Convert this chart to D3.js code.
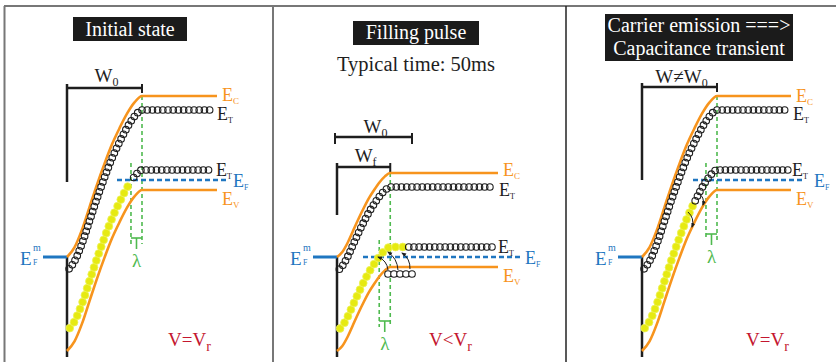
<!DOCTYPE html>
<html><head><meta charset="utf-8">
<script src="https://cdn.jsdelivr.net/npm/d3@7"></script>
<style>
body{margin:0;background:#fff}
svg{display:block}
text{font-family:"Liberation Serif","Times New Roman",serif}
</style>
</head><body>
<svg id="c" width="836" height="362"></svg>
<script>
// ---------------- data ----------------
const panelTitles = [["Initial state"], ["Filling pulse"], ["Carrier emission ===>", "Capacitance transient"]];
const panelNotes = ["", "Typical time: 50ms", ""];
const bulkFermi = [0.77, 0.0, 0.77];            // bulk E_F above metal E_F^m (eV)
const depletionWidth = [1.0, 0.71, 1.0];         // W in units of W0
const levelKeys = ["C", "T1", "T2", "V"];
const levelOffsets = [0.84, 0.70, 0.10, -0.10];  // level relative to bulk E_F (eV)
const interfaceEc = 0.0;                         // Ec at metal interface (eV)
const bendProfile = [[0,0],[0.1,0.06],[0.2,0.17],[0.3,0.31],[0.4,0.45],[0.5,0.58],[0.6,0.70],[0.7,0.80],[0.8,0.89],[0.9,0.96],[1,1]];
const occupiedDepth = [0.85, 0.89, 0.68];        // traps filled up to this depth
const lambdaWidth = 0.147;                       // λ in units of W0
const holeDepths = [[], [0.68, 0.76, 0.84, 0.92, 1.0], []];
const holeEnergy = -0.17;
const captureArrows = [[], [[0.68,-0.13,0.547,0.0],[0.813,-0.13,0.68,0.05],[0.973,-0.12,0.867,0.04]], []];
const emissionArrows = [[], [], [[0.747,0.64,0.813,0.52],[0.613,0.45,0.667,0.30]]];
const biasLabels = [["V=V","r"], ["V<V","r"], ["V=V","r"]];
const bracketLabels = [[["W","0"]], [["W","0"],["W","f"]], [["W≠W","0"]]];
const bracketWidths = [[1.0], [1.0, 0.71], [1.0]];

// ---------------- layout ----------------
const L = {
  x0: [67, 337, 642],
  bandEnd: [217, 498, 791],
  chainEnd: [212, 494, 788],
  efStart: [117, 363, 693],
  efEnd: [227, 520, 802],
  efLabelX: [233, 525, 814],
  titleBox: [[73,17,114,24],[353,21,126,24],[605,14,188,47]],
  titleBase: [[36],[39],[32,55]],
  bracketY: [[88],[137,167],[87]],
  bracketLabelBase: [[82],[133,162],[83]],
  longTickBottom: [182, 215, 180],
  lambdaY: [238, 321, 234],
  biasX: [168, 429, 746],
  dyC: [5, 3, 6],
  dyT1: [10, 9, 10],
  dividers: [273, 566]
};
const W0px = 75;
const ORANGE = "#f7941d", BLUE = "#1f76c0", GREEN = "#4fba4f", RED = "#c4172f", INK = "#1e1e1e", YEL = "#e6ea12";

const svg = d3.select("#c");
const y = d3.scaleLinear().domain([0, 1]).range([257, 157]);

// frame
svg.append("line").attr("x1",4).attr("x2",836).attr("y1",6).attr("y2",6).attr("stroke","#777").attr("stroke-width",2);
svg.append("line").attr("x1",4.5).attr("x2",4.5).attr("y1",6).attr("y2",362).attr("stroke","#777").attr("stroke-width",2);
svg.append("line").attr("x1",L.dividers[0]).attr("x2",L.dividers[0]).attr("y1",6).attr("y2",362).attr("stroke","#777").attr("stroke-width",2);
svg.append("line").attr("x1",L.dividers[1]).attr("x2",L.dividers[1]).attr("y1",6).attr("y2",362).attr("stroke","#222").attr("stroke-width",1.5);

const defs = svg.append("defs");
defs.append("marker").attr("id","ah").attr("viewBox","0 0 10 10").attr("refX",8).attr("refY",5)
  .attr("markerWidth",5).attr("markerHeight",5).attr("orient","auto")
  .append("path").attr("d","M0,1 L10,5 L0,9 z").attr("fill",INK);

function subText(g, x, yb, main, sub, size, subSize, color, anchor) {
  const t = g.append("text").attr("x",x).attr("y",yb).attr("font-size",size).attr("fill",color);
  if (anchor) t.attr("text-anchor",anchor);
  t.append("tspan").text(main);
  t.append("tspan").attr("font-size",subSize).attr("dy",subSize*0.35).text(sub);
  return t;
}

function placeAlong(pathNode, l0, l1, step) {
  const pts = [];
  for (let l = l0; l <= l1 + 0.01; l += step) pts.push(pathNode.getPointAtLength(l));
  return pts;
}
function lengthAtX(pathNode, xt) {
  let lo = 0, hi = pathNode.getTotalLength();
  for (let i = 0; i < 40; i++) {
    const m = (lo + hi) / 2;
    if (pathNode.getPointAtLength(m).x < xt) lo = m; else hi = m;
  }
  return lo;
}

for (let p = 0; p < 3; p++) {
  const g = svg.append("g");
  const x0 = L.x0[p];
  const x = d3.scaleLinear().domain([0, 1]).range([x0, x0 + W0px]);
  const W = depletionWidth[p];
  const EF = bulkFermi[p];
  const bulk = levelOffsets.map(o => EF + o);   // C, T1, T2, V
  const EcBulk = bulk[0];
  const bend = EcBulk - interfaceEc;
  const endD = x.invert(L.bandEnd[p]);
  const bandPts = (shift, dEnd) => bendProfile.map(([t, f]) => [t * W, interfaceEc + bend * f - shift]).concat([[dEnd, EcBulk - shift]]);
  const line = d3.line().x(d => x(d[0])).y(d => y(d[1])).curve(d3.curveMonotoneX);
  const shiftOf = k => bulk[0] - bulk[k];

  // title
  const tb = L.titleBox[p];
  g.append("rect").attr("x",tb[0]).attr("y",tb[1]).attr("width",tb[2]).attr("height",tb[3]).attr("fill","#1b1b1b");
  panelTitles[p].forEach((t, i) => {
    g.append("text").attr("x",tb[0]+tb[2]/2).attr("y",L.titleBase[p][i]).attr("text-anchor","middle")
      .attr("font-size",20).attr("fill","#fff").text(t);
  });
  if (panelNotes[p]) g.append("text").attr("x",tb[0]+tb[2]/2).attr("y",71).attr("text-anchor","middle")
      .attr("font-size",20.5).attr("fill",INK).text(panelNotes[p]);

  // width brackets
  bracketWidths[p].forEach((bw, i) => {
    const by = L.bracketY[p][i];
    const isLast = i === bracketWidths[p].length - 1;
    const xl = x(0) - (isLast ? 0 : 2), xr = x(bw);
    g.append("line").attr("x1",xl).attr("x2",xr).attr("y1",by).attr("y2",by).attr("stroke",INK).attr("stroke-width",2.5);
    g.append("line").attr("x1",xr).attr("x2",xr).attr("y1",by-4).attr("y2",by+ (isLast?5:7)).attr("stroke",INK).attr("stroke-width",2);
    g.append("line").attr("x1",xl).attr("x2",xl).attr("y1",by-4).attr("y2",isLast ? L.longTickBottom[p] : by+7).attr("stroke",INK).attr("stroke-width",isLast?2.5:2);
    const lab = bracketLabels[p][i];
    subText(g, (xl+xr)/2 + 2, L.bracketLabelBase[p][i], lab[0], lab[1], 19, 12, INK, "middle");
  });

  // green λ markers
  const xW = x(W), xLam = x(W - lambdaWidth);
  const ly = L.lambdaY[p];
  g.append("line").attr("x1",xW).attr("x2",xW).attr("y1",y(EcBulk)).attr("y2",ly+6)
    .attr("stroke",GREEN).attr("stroke-width",1.6).attr("stroke-dasharray","4,3");
  g.append("line").attr("x1",xLam).attr("x2",xLam).attr("y1",y(bulk[2])-7).attr("y2",ly+6)
    .attr("stroke",GREEN).attr("stroke-width",1.6).attr("stroke-dasharray","4,3");
  g.append("line").attr("x1",xLam).attr("x2",xW).attr("y1",ly).attr("y2",ly).attr("stroke",GREEN).attr("stroke-width",1.6);
  g.append("line").attr("x1",(xLam+xW)/2).attr("x2",(xLam+xW)/2).attr("y1",ly).attr("y2",ly+11).attr("stroke",GREEN).attr("stroke-width",1.6);
  g.append("text").attr("x",(xLam+xW)/2).attr("y",ly+29).attr("text-anchor","middle").attr("font-size",19).attr("fill",GREEN).text("λ");

  // metal interface and metal Fermi level
  g.append("line").attr("x1",x(0)).attr("x2",x(0)).attr("y1",y(interfaceEc)).attr("y2",357).attr("stroke",INK).attr("stroke-width",2.5);
  g.append("line").attr("x1",x(0)-24).attr("x2",x(0)).attr("y1",y(0)).attr("y2",y(0)).attr("stroke",BLUE).attr("stroke-width",3);
  g.append("text").attr("x",x(0)-47).attr("y",y(0)+8).attr("font-size",19).attr("fill",BLUE).text("E");
  g.append("text").attr("x",x(0)-34).attr("y",y(0)-6).attr("font-size",10).attr("fill",BLUE).text("m");
  g.append("text").attr("x",x(0)-34).attr("y",y(0)+8).attr("font-size",8).attr("fill",BLUE).text("F");

  // bulk Fermi level
  g.append("line").attr("x1",L.efStart[p]).attr("x2",L.efEnd[p]).attr("y1",y(EF)).attr("y2",y(EF))
    .attr("stroke",BLUE).attr("stroke-width",2.6).attr("stroke-dasharray","5,3");
  subText(g, L.efLabelX[p], y(EF)+7, "E", "F", 18, 8, BLUE);

  // bands
  g.append("path").attr("d",line(bandPts(shiftOf(0), endD))).attr("fill","none").attr("stroke",ORANGE).attr("stroke-width",2.6);
  g.append("path").attr("d",line(bandPts(shiftOf(3), endD))).attr("fill","none").attr("stroke",ORANGE).attr("stroke-width",2.6);
  subText(g, L.bandEnd[p]+5, y(bulk[0])+L.dyC[p], "E", "C", 18, 9, ORANGE);
  subText(g, L.bandEnd[p]+5, y(bulk[3])+15, "E", "V", 18, 9, ORANGE);

  // trap chains
  const chainD = x.invert(L.chainEnd[p]);
  const t1 = g.append("path").attr("d",line(bandPts(shiftOf(1), chainD))).attr("fill","none").attr("stroke","none").node();
  const t2 = g.append("path").attr("d",line(bandPts(shiftOf(2), chainD))).attr("fill","none").attr("stroke","none").node();
  const L1 = t1.getTotalLength();
  placeAlong(t1, 3, L1, 5.2).forEach(pt => {
    g.append("circle").attr("cx",pt.x).attr("cy",pt.y).attr("r",3.3).attr("fill","none").attr("stroke",INK).attr("stroke-width",1.1);
  });
  const L2 = t2.getTotalLength();
  const Lc = lengthAtX(t2, x(occupiedDepth[p]));
  placeAlong(t2, 4, Lc, 7.3).forEach(pt => {
    g.append("circle").attr("cx",pt.x).attr("cy",pt.y).attr("r",3.9).attr("fill",YEL).attr("stroke","#eef25a").attr("stroke-width",0.8);
  });
  placeAlong(t2, Lc + 5, L2, 5.2).forEach(pt => {
    g.append("circle").attr("cx",pt.x).attr("cy",pt.y).attr("r",3.3).attr("fill","none").attr("stroke",INK).attr("stroke-width",1.1);
  });
  subText(g, L.chainEnd[p]+5, y(bulk[1])+L.dyT1[p], "E", "T", 18, 8, INK);
  subText(g, L.chainEnd[p]+4, y(bulk[2])+6, "E", "T", 18, 8, INK);

  // holes
  holeDepths[p].forEach(d => {
    g.append("circle").attr("cx",x(d)).attr("cy",y(holeEnergy)).attr("r",3.3).attr("fill","#fff").attr("stroke",INK).attr("stroke-width",1.1);
  });
  // arrows
  captureArrows[p].concat(emissionArrows[p]).forEach(a => {
    const sx = x(a[0]), sy = y(a[1]), ex = x(a[2]), ey = y(a[3]);
    const mx = (sx+ex)/2, my = (sy+ey)/2;
    const bow = emissionArrows[p].includes(a) ? -5 : 5;
    const dx = ex - sx, dy = ey - sy, len = Math.hypot(dx, dy);
    const cx = mx + (-dy/len)*bow, cy = my + (dx/len)*bow;
    g.append("path").attr("d",`M${sx},${sy} Q${cx},${cy} ${ex},${ey}`).attr("fill","none")
      .attr("stroke",INK).attr("stroke-width",1).attr("marker-end","url(#ah)");
  });

  // bias label
  subText(g, L.biasX[p], 346, biasLabels[p][0], biasLabels[p][1], 19, 14, RED);
}
</script>
</body></html>
